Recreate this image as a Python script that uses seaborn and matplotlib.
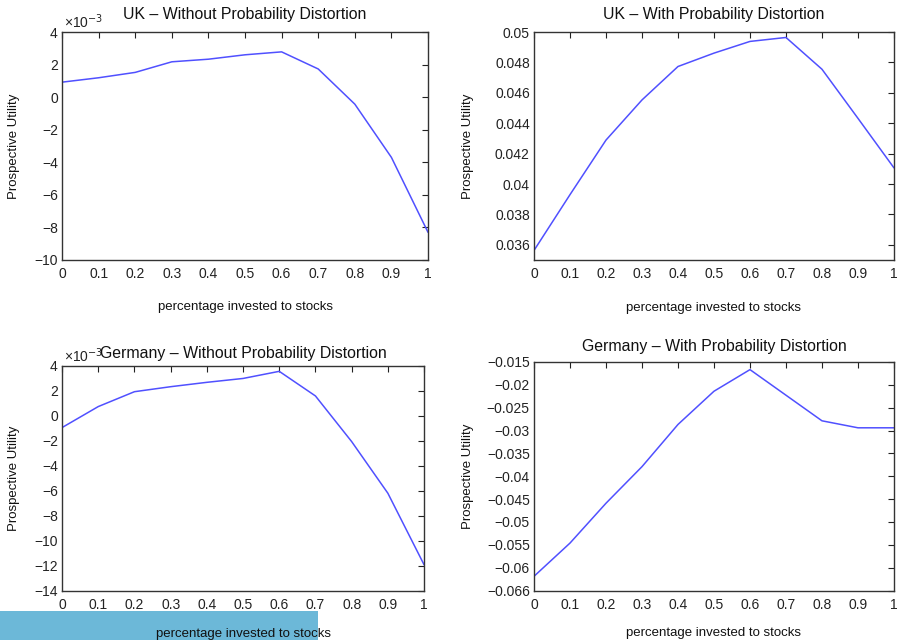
import matplotlib
matplotlib.use("Agg")
import matplotlib.pyplot as plt
import seaborn as sns
import pandas as pd
from matplotlib.patches import Rectangle

sns.set_style("white")
plt.rcParams['font.family'] = ['Liberation Sans', 'DejaVu Sans']

x_vals = [0, 0.1, 0.2, 0.3, 0.4, 0.5, 0.6, 0.7, 0.8, 0.9, 1.0]

# UK without distortion (units of 1e-3)
uk_without = [0.92, 1.19, 1.52, 2.17, 2.33, 2.6, 2.78, 1.73, -0.43, -3.7, -8.3]
# UK with distortion
uk_with = [0.03563, 0.0393, 0.04289, 0.04553, 0.04773, 0.04861, 0.04938,
           0.04964, 0.04755, 0.04432, 0.04106]
# Germany without distortion (units of 1e-3)
de_without = [-0.93, 0.75, 1.94, 2.34, 2.69, 3.0, 3.57, 1.6, -2.05, -6.18, -11.9]
# Germany with distortion
de_with = [-0.06189, -0.05462, -0.0459, -0.0379, -0.02867, -0.0214, -0.01667,
           -0.02227, -0.02787, -0.0294, -0.0294]

titles = ["UK \u2013 Without Probability Distortion",
          "UK \u2013 With Probability Distortion",
          "Germany \u2013 Without Probability Distortion",
          "Germany \u2013 With Probability Distortion"]

xticks = [0, 0.1, 0.2, 0.3, 0.4, 0.5, 0.6, 0.7, 0.8, 0.9, 1]
xticklabels = ["0", "0.1", "0.2", "0.3", "0.4", "0.5", "0.6", "0.7", "0.8", "0.9", "1"]

yt1 = [4, 2, 0, -2, -4, -6, -8, -10]
yt1_lab = ["4", "2", "0", "\u22122", "\u22124", "\u22126", "\u22128", "\u221210"]
yt2 = [0.05, 0.048, 0.046, 0.044, 0.042, 0.04, 0.038, 0.036]
yt2_lab = ["0.05", "0.048", "0.046", "0.044", "0.042", "0.04", "0.038", "0.036"]
yt3 = [4, 2, 0, -2, -4, -6, -8, -10, -12, -14]
yt3_lab = ["4", "2", "0", "\u22122", "\u22124", "\u22126", "\u22128", "\u221210", "\u221212", "\u221214"]
yt4 = [-0.015, -0.02, -0.025, -0.03, -0.035, -0.04, -0.045, -0.05, -0.055, -0.06, -0.0651]
yt4_lab = ["\u22120.015", "\u22120.02", "\u22120.025", "\u22120.03", "\u22120.035", "\u22120.04",
           "\u22120.045", "\u22120.05", "\u22120.055", "\u22120.06", "\u22120.066"]

fig = plt.figure(figsize=(8.99, 6.4), dpi=100)

# axes positions [left, bottom, width, height]
positions = [
    [0.069, 0.59375, 0.4071, 0.35625],
    [0.594, 0.59375, 0.4004, 0.35625],
    [0.069, 0.0766, 0.4027, 0.3516],
    [0.594, 0.0766, 0.4004, 0.3578],
]
series = [uk_without, uk_with, de_without, de_with]
ylims = [(-10, 4), (0.035, 0.05), (-14, 4), (-0.0651, -0.015)]
yticks = [(yt1, yt1_lab), (yt2, yt2_lab), (yt3, yt3_lab), (yt4, yt4_lab)]
ylab_x = [-0.115, -0.168, -0.115, -0.168]
xlab_y = [-0.178, -0.183, -0.165, -0.158]
title_pad = [9, 9, 6, 8]

line_color = "#5050ff"

for i in range(4):
    ax = fig.add_axes(positions[i])
    df = pd.DataFrame({"x": x_vals, "y": series[i]})
    sns.lineplot(data=df, x="x", y="y", ax=ax, color=line_color, lw=1.1)
    ax.set_xlim(0, 1)
    ax.set_ylim(*ylims[i])
    ax.set_xticks(xticks)
    ax.set_xticklabels(xticklabels)
    ax.set_yticks(yticks[i][0])
    ax.set_yticklabels(yticks[i][1])
    ax.tick_params(direction="in", length=4, width=0.8, top=True, right=True,
                   labelsize=10, colors="#222222", pad=3)
    ax.tick_params(axis="x", pad=5)
    for s in ax.spines.values():
        s.set_color("#333333")
        s.set_linewidth(1.0)
    ax.set_title(titles[i], fontsize=11.4, pad=title_pad[i], color="#111111")
    ax.set_xlabel("percentage invested to stocks", fontsize=9.5, color="#111111")
    ax.set_ylabel("Prospective Utility", fontsize=9.5, color="#111111")
    ax.yaxis.set_label_coords(ylab_x[i], 0.5)
    ax.xaxis.set_label_coords(0.5, xlab_y[i])
    if i in (0, 2):
        ax.text(0.005, 1.005, "\u00d710$^{-3}$", transform=ax.transAxes,
                fontsize=10, ha="left", va="bottom", color="#222222")

# decorative light-blue band in the lower left corner
fig.patches.append(Rectangle((0, 0), 318 / 899, 29 / 640, transform=fig.transFigure,
                             facecolor="#6cb8d8", edgecolor="none", zorder=-1))

fig.savefig("out.png", dpi=100)
